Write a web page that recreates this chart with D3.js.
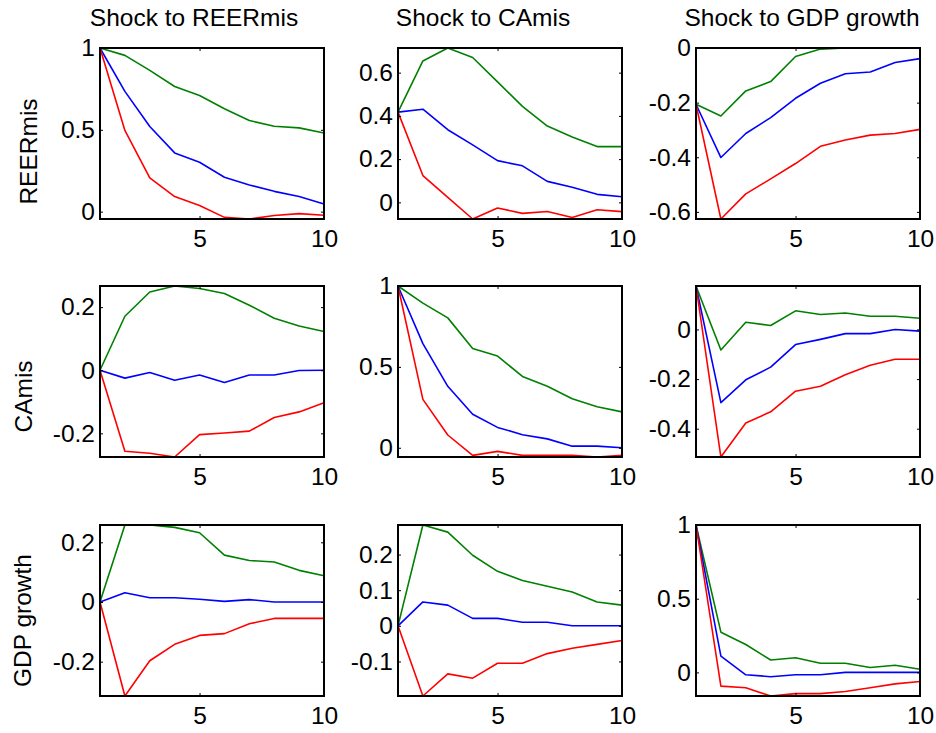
<!DOCTYPE html>
<html>
<head>
<meta charset="utf-8">
<script src="https://cdn.jsdelivr.net/npm/d3@7"></script>
<style>
  body { margin: 0; background: #fff; }
  text { font-family: Arial, "Liberation Sans", Helvetica, sans-serif; }
</style>
</head>
<body>
<svg id="chart" width="936" height="733"></svg>
<script>
// impulse responses, 10 steps; each panel: [upper band, median, lower band]
var steps = [1, 2, 3, 4, 5, 6, 7, 8, 9, 10];
var variables = ["REERmis", "CAmis", "GDP growth"];
var xTicks = [5, 10];

// response of REERmis
var reer_to_reer = [
  [1, 0.955, 0.863, 0.765, 0.71, 0.629, 0.557, 0.522, 0.512, 0.48],
  [1, 0.735, 0.52, 0.359, 0.302, 0.21, 0.163, 0.124, 0.092, 0.047],
  [1, 0.496, 0.206, 0.092, 0.037, -0.035, -0.045, -0.024, -0.012, -0.022]
];
var ca_to_reer = [
  [0.4175, 0.654, 0.714, 0.67, 0.557, 0.444, 0.353, 0.302, 0.258, 0.258],
  [0.4175, 0.431, 0.336, 0.266, 0.193, 0.169, 0.097, 0.07, 0.037, 0.026],
  [0.4175, 0.124, 0.023, -0.077, -0.026, -0.051, -0.042, -0.07, -0.034, -0.043]
];
var gdp_to_reer = [
  [-0.206, -0.249, -0.157, -0.123, -0.031, -0.004, 0, 0, 0, 0],
  [-0.206, -0.401, -0.313, -0.255, -0.184, -0.129, -0.094, -0.088, -0.053, -0.039],
  [-0.206, -0.626, -0.534, -0.479, -0.423, -0.36, -0.337, -0.319, -0.313, -0.298]
];

// response of CAmis
var reer_to_ca = [
  [0, 0.171, 0.248, 0.267, 0.259, 0.243, 0.206, 0.165, 0.14, 0.123],
  [0, -0.025, -0.007, -0.032, -0.015, -0.039, -0.015, -0.015, -0.001, 0],
  [0, -0.257, -0.263, -0.275, -0.204, -0.199, -0.193, -0.15, -0.132, -0.103]
];
var ca_to_ca = [
  [1, 0.894, 0.803, 0.614, 0.567, 0.441, 0.38, 0.303, 0.254, 0.222],
  [1, 0.644, 0.38, 0.207, 0.126, 0.081, 0.055, 0.01, 0.01, 0],
  [1, 0.299, 0.079, -0.047, -0.022, -0.047, -0.047, -0.047, -0.057, -0.047]
];
var gdp_to_ca = [
  [0.175, -0.083, 0.029, 0.016, 0.075, 0.06, 0.066, 0.053, 0.053, 0.045],
  [0.175, -0.295, -0.203, -0.152, -0.061, -0.04, -0.017, -0.017, 0, -0.007],
  [0.175, -0.514, -0.377, -0.332, -0.249, -0.229, -0.183, -0.144, -0.12, -0.12]
];

// response of GDP growth
var reer_to_gdp = [
  [0, 0.258, 0.258, 0.25, 0.232, 0.157, 0.139, 0.134, 0.106, 0.088],
  [0, 0.031, 0.014, 0.014, 0.009, 0.002, 0.008, 0, 0, 0],
  [0, -0.315, -0.197, -0.142, -0.112, -0.106, -0.073, -0.055, -0.055, -0.055]
];
var ca_to_gdp = [
  [0, 0.283, 0.263, 0.198, 0.153, 0.127, 0.111, 0.095, 0.067, 0.058],
  [0, 0.067, 0.058, 0.021, 0.021, 0.01, 0.01, 0, 0, 0],
  [0, -0.197, -0.135, -0.147, -0.105, -0.105, -0.078, -0.063, -0.052, -0.041]
];
var gdp_to_gdp = [
  [1, 0.273, 0.189, 0.084, 0.1, 0.062, 0.062, 0.033, 0.049, 0.022],
  [1, 0.111, -0.016, -0.029, -0.016, -0.016, 0, 0, 0, 0],
  [1, -0.093, -0.104, -0.16, -0.144, -0.144, -0.129, -0.104, -0.078, -0.062]
];

// y tick values per panel (row = response, col = shock)
var yTicks = [
  [[0, 0.5, 1], [0, 0.2, 0.4, 0.6], [-0.6, -0.4, -0.2, 0]],
  [[-0.2, 0, 0.2], [0, 0.5, 1], [-0.4, -0.2, 0]],
  [[-0.2, 0, 0.2], [-0.1, 0, 0.1, 0.2], [0, 0.5, 1]]
];

var panels = [
  [reer_to_reer, ca_to_reer, gdp_to_reer],
  [reer_to_ca, ca_to_ca, gdp_to_ca],
  [reer_to_gdp, ca_to_gdp, gdp_to_gdp]
];

var colors = ["#008000", "#0000ff", "#ff0000"];

// layout
var lefts = [100, 398, 696], tops = [48, 286, 525];
var W = 224, H = 171;
var fs = "24.5px";
var titleShift = [-18, -27, -6];
var ylabShift = [18, 25, 10];
var ylabX = [37, 32, 31];

var svg = d3.select("#chart");

var x = d3.scaleLinear().domain([1, 10]).range([0, W]);

function fmt(d) { return String(d); }

panels.forEach(function(row, i) {
  row.forEach(function(series, j) {
    var g = svg.append("g").attr("transform", "translate(" + lefts[j] + "," + tops[i] + ")");

    var all = d3.merge(series);
    var y = d3.scaleLinear().domain(d3.extent(all)).range([H, 0]);

    var line = d3.line()
      .x(function(d, k) { return x(steps[k]); })
      .y(function(d) { return y(d); });

    g.selectAll("path.irf")
      .data(series)
      .enter().append("path")
      .attr("class", "irf")
      .attr("d", line)
      .attr("fill", "none")
      .attr("stroke", function(d, k) { return colors[k]; })
      .attr("stroke-width", 1.6)
      .attr("stroke-linejoin", "round");

    // axes with inward ticks on all four sides
    var left = g.append("g").call(d3.axisLeft(y).tickValues(yTicks[i][j]).tickFormat(fmt)
      .tickSizeInner(-3).tickSizeOuter(0).tickPadding(5));
    var right = g.append("g").attr("transform", "translate(" + W + ",0)")
      .call(d3.axisRight(y).tickValues(yTicks[i][j]).tickFormat("").tickSizeInner(-3).tickSizeOuter(0));
    var bottom = g.append("g").attr("transform", "translate(0," + H + ")")
      .call(d3.axisBottom(x).tickValues(xTicks).tickFormat(fmt)
        .tickSizeInner(-3).tickSizeOuter(0).tickPadding(10.6));
    var top = g.append("g")
      .call(d3.axisTop(x).tickValues(xTicks).tickFormat("").tickSizeInner(-3).tickSizeOuter(0));

    [left, right, bottom, top].forEach(function(a) {
      a.select(".domain").remove();
      a.attr("font-family", null);
      a.selectAll("text").attr("font-size", fs).attr("fill", "#000");
      a.selectAll("line").attr("stroke", "#000");
    });

    g.append("rect")
      .attr("width", W).attr("height", H)
      .attr("fill", "none").attr("stroke", "#000").attr("stroke-width", 2);

    if (i === 0) {
      svg.append("text")
        .attr("x", lefts[j] + W / 2 + titleShift[j])
        .attr("y", 26)
        .attr("text-anchor", "middle")
        .style("font-size", fs)
        .text("Shock to " + variables[j]);
    }
    if (j === 0) {
      var cy = tops[i] + H / 2 + ylabShift[i];
      svg.append("text")
        .attr("transform", "translate(" + ylabX[i] + "," + cy + ") rotate(-90)")
        .attr("text-anchor", "middle")
        .style("font-size", fs)
        .text(variables[i]);
    }
  });
});
</script>
</body>
</html>
